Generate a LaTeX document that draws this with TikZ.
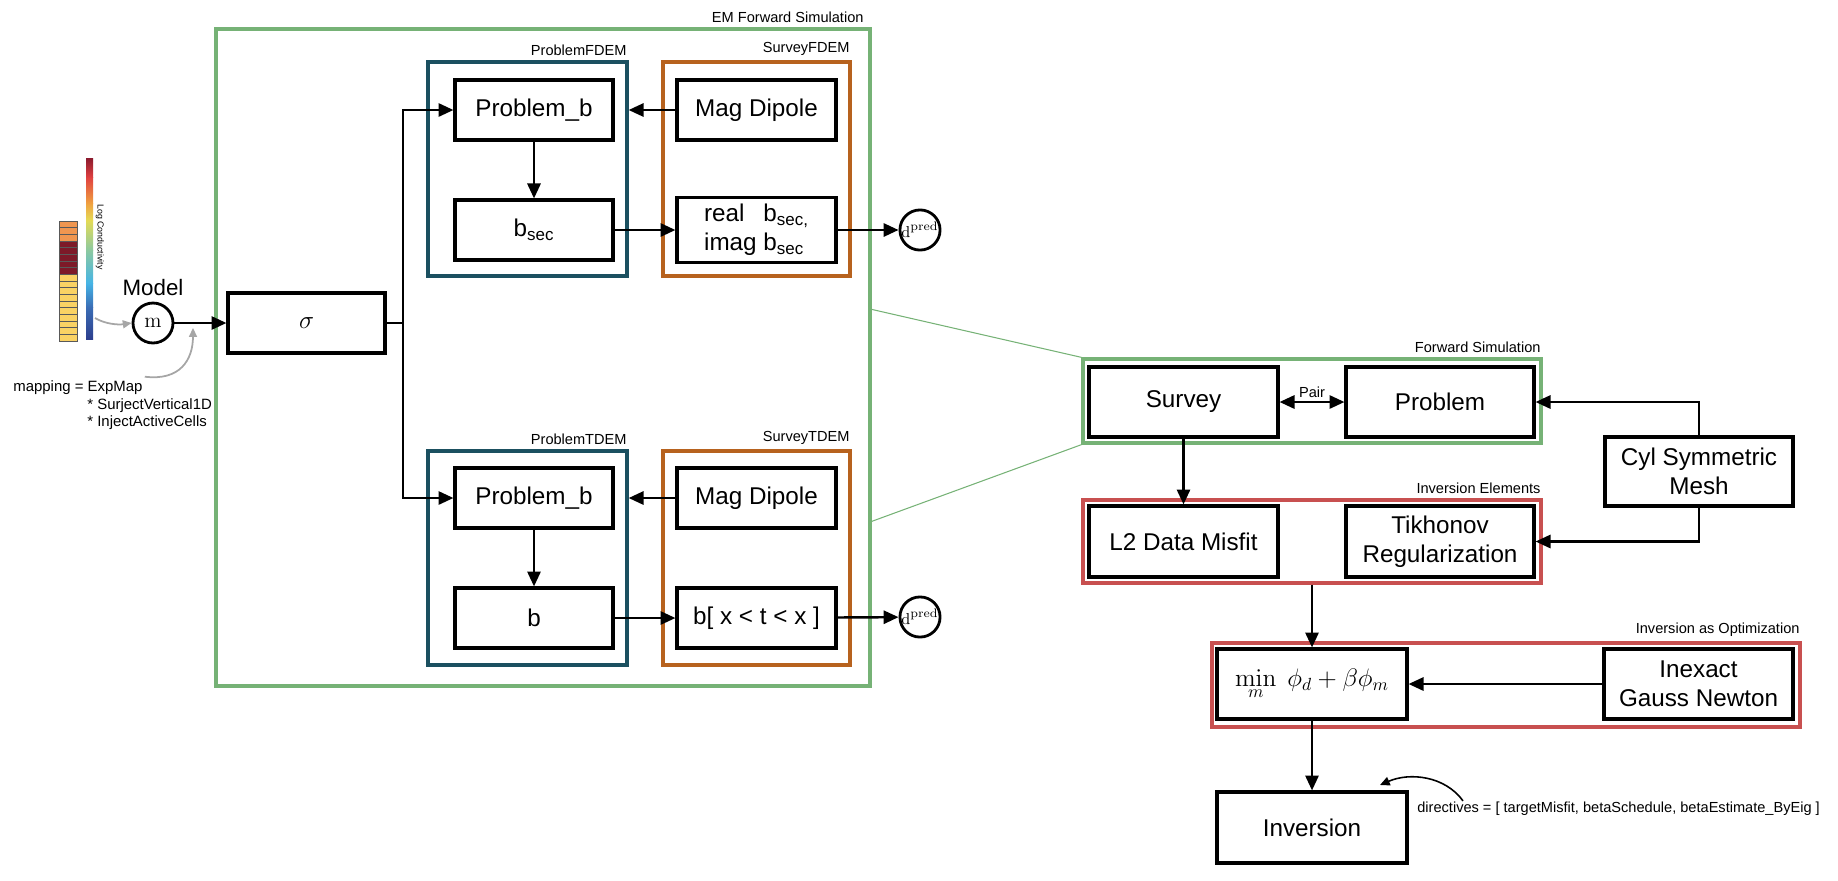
\documentclass[tikz,border=0pt]{standalone}
\usepackage[no-math]{fontspec}
\setmainfont{Liberation Sans}
\usepackage{tikz}
\usetikzlibrary{arrows.meta, positioning, calc}

\definecolor{emgreen}{RGB}{118,178,118}
\definecolor{probteal}{RGB}{27,80,96}
\definecolor{survorange}{RGB}{183,98,30}
\definecolor{invred}{RGB}{200,80,80}
\definecolor{cellorange}{RGB}{240,150,80}
\definecolor{cellred}{RGB}{125,25,40}
\definecolor{cellyellow}{RGB}{250,210,100}
\definecolor{cbA}{HTML}{2D3F8E}
\definecolor{cbB}{HTML}{3A6DB5}
\definecolor{cbC}{HTML}{45B4E6}
\definecolor{cbD}{HTML}{8CC9A0}
\definecolor{cbE}{HTML}{E5DB55}
\definecolor{cbF}{HTML}{F0A040}
\definecolor{cbG}{HTML}{E04040}
\definecolor{cbH}{HTML}{8B1A2E}

\newcommand{\blockfont}{\fontsize{13.8}{16.5}\selectfont}
\newcommand{\lblfont}{\fontsize{8.3}{10}\selectfont}

\tikzstyle{block} = [rectangle, draw=black, line width=1.8pt, minimum width=3.16cm, minimum height=1.2cm, text centered, align=center, inner sep=2pt, font=\blockfont]
\tikzstyle{frame} = [rectangle, line width=1.9pt, inner sep=0pt]
\tikzstyle{grouplabel} = [font=\lblfont, anchor=south east, inner sep=1pt]
\tikzstyle{dot} = [circle, draw=black, line width=1.6pt, minimum size=0.8cm, inner sep=0pt]
\tikzstyle{arrow} = [line width=1.4pt, -{Triangle[length=8.5pt,width=7.5pt]}]
\tikzstyle{dblarrow} = [line width=1.4pt, {Triangle[length=8.5pt,width=7.5pt]}-{Triangle[length=8.5pt,width=7.5pt]}]
\tikzstyle{line} = [line width=1.4pt]
\tikzstyle{grayarrow} = [gray!70, line width=1pt, -{Triangle[length=5pt,width=4.5pt]}]
\tikzstyle{zoomline} = [emgreen, line width=0.6pt]
\tikzstyle{cell} = [draw=black!65, line width=0.35pt]

\begin{document}
\begin{tikzpicture}[x=0.02cm, y=-0.02cm]
        \useasboundingbox (0,0) rectangle (1838,880);

        % Model column and colour bar
        \foreach \i in {0,1,2}
            \draw[cell, fill=cellorange] (59,{221+6.67*\i}) rectangle ++(18,6.67);
        \foreach \i in {3,...,7}
            \draw[cell, fill=cellred] (59,{221+6.67*\i}) rectangle ++(18,6.67);
        \foreach \i in {8,...,17}
            \draw[cell, fill=cellyellow] (59,{221+6.67*\i}) rectangle ++(18,6.67);
        \foreach \ya/\yb/\ca/\cb in {339/307/cbA/cbB, 307.5/283/cbB/cbC, 283.5/250/cbC/cbD, 250.5/220/cbD/cbE, 220.5/203/cbE/cbF, 203.5/177/cbF/cbG, 177.5/158/cbG/cbH}
            \shade[bottom color=\ca, top color=\cb] (86,\ya) rectangle (93,\yb);
        \node (cbarlabel) [rotate=-90, font=\fontsize{5}{6}\selectfont, inner sep=0pt] at (100,237) {Log Conductivity};
        \coordinate (cbfoot) at (95,318);

        % Nodes
        \node (m) [dot, font=\fontsize{12}{14}\selectfont] at (153,323) {$\mathrm{m}$};
        \node (modellabel) [above=0pt of m, font=\fontsize{12.7}{15}\selectfont] {Model};
        \node (mapA) [anchor=west, font=\fontsize{8.5}{10}\selectfont, inner sep=0pt] at (13,388) {mapping = ExpMap};
        \node (mapB) [anchor=west, font=\fontsize{8.5}{10}\selectfont, inner sep=0pt] at (87,406) {* SurjectVertical1D};
        \node (mapC) [anchor=west, font=\fontsize{8.5}{10}\selectfont, inner sep=0pt] at (87,423) {* InjectActiveCells};

        \node (em) [frame, draw=emgreen, minimum width=13.08cm, minimum height=13.14cm] at (543,357.5) {};
        \node (emlabel) [grouplabel] at ([xshift=-0.12cm, yshift=0.06cm]em.north east) {EM Forward Simulation};

        \node (sigma) [block, minimum width=3.14cm] at (306.5,323) {$\sigma$};
        \coordinate (branch) at (403,323);

        \node (pfdem) [frame, draw=probteal, minimum width=3.98cm, minimum height=4.28cm] at (527.5,169) {};
        \node (pfdemlabel) [grouplabel] at ([yshift=0.06cm]pfdem.north east) {ProblemFDEM};
        \node (sfdem) [frame, draw=survorange, minimum width=3.74cm, minimum height=4.28cm] at (756.5,169) {};
        \node (sfdemlabel) [grouplabel] at ([yshift=0.06cm]sfdem.north east) {SurveyFDEM};
        \node (ptdem) [frame, draw=probteal, minimum width=3.98cm, minimum height=4.28cm] at (527.5,558) {};
        \node (ptdemlabel) [grouplabel] at ([yshift=0.06cm]ptdem.north east) {ProblemTDEM};
        \node (stdem) [frame, draw=survorange, minimum width=3.74cm, minimum height=4.28cm] at (756.5,558) {};
        \node (stdemlabel) [grouplabel] at ([yshift=0.06cm]stdem.north east) {SurveyTDEM};

        \node (probF) [block] at (534,110) {Problem\_b};
        \node (bsecF) [block] at (534,230) {b\textsubscript{sec}};
        \node (magF) [block, minimum width=3.18cm] at (756.5,110) {Mag Dipole};
        \node (realF) [block, minimum width=3.18cm] at (756.5,230) {\begin{tabular}{@{}l@{\ }l@{}}real & b\textsubscript{sec,}\\ imag & b\textsubscript{sec}\end{tabular}};
        \node (dpredF) [dot, font=\fontsize{9.5}{11}\selectfont] at (920,230) {$\mathrm{d}^{\mathrm{pred}}$};

        \node (probT) [block] at (534,498) {Problem\_b};
        \node (bT) [block] at (534,618) {b};
        \node (magT) [block, minimum width=3.18cm] at (756.5,498) {Mag Dipole};
        \node (rangeT) [block, minimum width=3.18cm] at (756.5,618) {b[ x < t < x ]};
        \node (dpredT) [dot, font=\fontsize{9.5}{11}\selectfont] at (920,617) {$\mathrm{d}^{\mathrm{pred}}$};

        \node (fs) [frame, draw=emgreen, minimum width=9.16cm, minimum height=1.68cm] at (1312,401) {};
        \node (fslabel) [grouplabel] at ([yshift=0.06cm]fs.north east) {Forward Simulation};
        \node (survey) [block, minimum width=3.78cm, minimum height=1.4cm] at (1183.5,402) {Survey};
        \node (problem) [block, minimum width=3.76cm, minimum height=1.4cm] at (1440,402) {Problem};

        \node (ie) [frame, draw=invred, minimum width=9.16cm, minimum height=1.66cm] at (1312,541.5) {};
        \node (ielabel) [grouplabel] at ([yshift=0.06cm]ie.north east) {Inversion Elements};
        \node (l2) [block, minimum width=3.78cm, minimum height=1.42cm] at (1183.5,541.5) {L2 Data Misfit};
        \node (tikh) [block, minimum width=3.76cm, minimum height=1.42cm] at (1440,541.5) {Tikhonov\\Regularization};

        \node (cyl) [block, minimum width=3.76cm, minimum height=1.38cm] at (1699,471.5) {Cyl Symmetric\\Mesh};

        \node (opt) [frame, draw=invred, minimum width=11.76cm, minimum height=1.68cm] at (1506,685) {};
        \node (optlabel) [grouplabel] at ([yshift=0.06cm]opt.north east) {Inversion as Optimization};
        \node (minbox) [block, minimum width=3.8cm, minimum height=1.4cm] at (1312,684) {$\displaystyle\min_m\ \phi_d+\beta\phi_m$};
        \node (inexact) [block, minimum width=3.78cm, minimum height=1.4cm] at (1698.5,684) {Inexact\\Gauss Newton};

        \node (inversion) [block, minimum width=3.8cm, minimum height=1.42cm] at (1312,827.5) {Inversion};
        \node (directives) [anchor=west, font=\lblfont, inner sep=0pt] at (1417,809) {directives = [ targetMisfit, betaSchedule, betaEstimate\_ByEig ]};

        % Arrows
        \draw [grayarrow] (cbfoot) .. controls (105,324) and (118,325) .. (m.west);
        \draw [grayarrow] ([xshift=0.04cm, yshift=0.08cm]mapA.north east) .. controls (180,381) and (193,360) .. (193,328);
        \draw [arrow] (m) -- (sigma);
        \draw [line] (sigma.east) -- (branch);
        \draw [arrow] (branch) |- (probF.west);
        \draw [arrow] (branch) |- (probT.west);

        \draw [arrow] (magF) -- (magF -| pfdem.east);
        \draw [arrow] (probF) -- (bsecF);
        \draw [arrow] (bsecF) -- (realF);
        \draw [arrow] (realF) -- (dpredF);

        \draw [arrow] (magT) -- (magT -| ptdem.east);
        \draw [arrow] (probT) -- (bT);
        \draw [arrow] (bT) -- (rangeT);
        \draw [arrow] (rangeT) -- (dpredT);

        \coordinate (zoomA) at (870,309);
        \coordinate (zoomB) at (870,522);
        \draw [zoomline] (zoomA) -- (fs.north west);
        \draw [zoomline] (zoomB) -- (fs.south west);

        \draw [dblarrow] (survey) -- node[above, font=\lblfont, inner sep=2pt] {Pair} (problem);
        \draw [arrow] (survey) -- (l2);
        \draw [arrow] (cyl.north) |- (problem.east);
        \draw [arrow] (cyl.south) |- (tikh.east);
        \draw [arrow] (ie.south -| minbox.north) -- (minbox.north);
        \draw [arrow] (inexact) -- (minbox);
        \draw [arrow] (minbox) -- (inversion);
        \draw [line width=0.9pt, -{Triangle[length=5.5pt,width=5pt]}] ([xshift=0.92cm, yshift=0.02cm]directives.north west) .. controls (1445,776) and (1410,772) .. (1380,785);

    \end{tikzpicture}
\end{document}
